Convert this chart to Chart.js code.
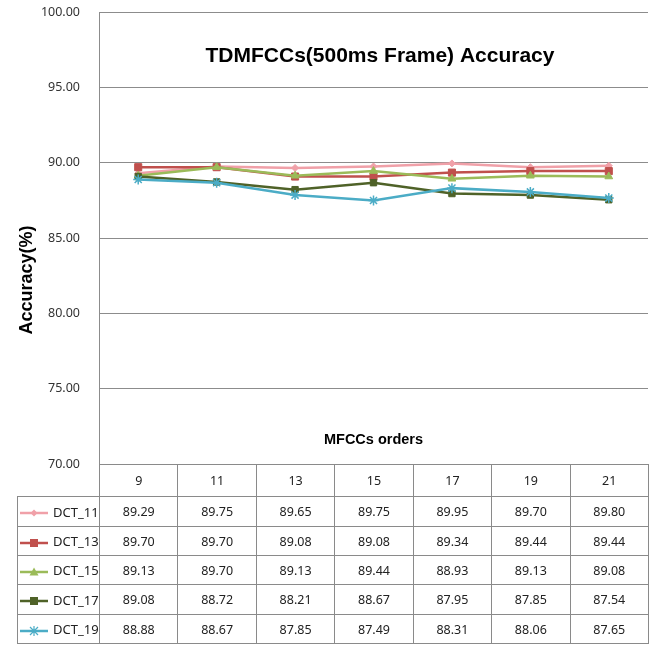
<!DOCTYPE html>
<html><head><meta charset="utf-8">
<script src="https://cdn.jsdelivr.net/npm/chart.js@4/dist/chart.umd.min.js"></script>
<style>
body{margin:0;background:#fff;}
#wrap{position:relative;width:651px;height:660px;overflow:hidden;}
#c{position:absolute;left:0;top:0;}
#tbl{position:absolute;left:17px;top:464px;border-collapse:collapse;font-family:"Noto Sans","DejaVu Sans",sans-serif;font-size:12.5px;color:#222;table-layout:fixed;}
#tbl td{border:1px solid #8a8a8a;text-align:center;padding:0;box-sizing:border-box;}
#tbl td.blank{border:none;}
#tbl td.leg{text-align:left;padding-left:2px;white-space:nowrap;font-size:13px;}
#tbl td.leg svg{vertical-align:middle;margin-right:3px;}
</style></head>
<body><div id="wrap"><canvas id="c" width="651" height="660"></canvas><table id="tbl"></table></div>
<script>
const categories = ['9','11','13','15','17','19','21'];
const seriesNames = ['DCT_11','DCT_13','DCT_15','DCT_17','DCT_19'];
const dct11 = [89.29, 89.75, 89.65, 89.75, 89.95, 89.70, 89.80];
const dct13 = [89.70, 89.70, 89.08, 89.08, 89.34, 89.44, 89.44];
const dct15 = [89.13, 89.70, 89.13, 89.44, 88.93, 89.13, 89.08];
const dct17 = [89.08, 88.72, 88.21, 88.67, 87.95, 87.85, 87.54];
const dct19 = [88.88, 88.67, 87.85, 87.49, 88.31, 88.06, 87.65];
const yTicks = [70, 75, 80, 85, 90, 95, 100];
const seriesValues = [dct11, dct13, dct15, dct17, dct19];

const colors = ['#F0A0A8', '#C0504D', '#9BBB59', '#4F6228', '#4BACC6'];
const pstyles = ['rectRot', 'rect', 'triangle', 'rect', 'star'];
const pradius = [3.5, 5, 4.5, 4.5, 5];

const datasets = seriesNames.map((n, i) => ({
  label: n, data: seriesValues[i],
  borderColor: colors[i], backgroundColor: colors[i],
  borderWidth: 2.5, pointStyle: pstyles[i], pointRadius: pradius[i],
  pointBorderWidth: i === 4 ? 1.5 : 1, pointBorderColor: colors[i],
  order: 4 - i, tension: 0
}));

const textPlugin = {
  id: 'texts',
  afterDraw(chart) {
    const ctx = chart.ctx, a = chart.chartArea;
    const cx = (a.left + a.right) / 2;
    ctx.save();
    ctx.fillStyle = '#000';
    ctx.textAlign = 'center'; ctx.textBaseline = 'middle';
    ctx.font = 'bold 21px "Liberation Sans", Arial, sans-serif';
    ctx.fillText('TDMFCCs(500ms Frame) Accuracy', 380, 56);
    ctx.font = 'bold 14.5px "Liberation Sans", Arial, sans-serif';
    ctx.fillText('MFCCs orders', cx, 440);
    ctx.translate(27, 280);
    ctx.rotate(-Math.PI / 2);
    ctx.font = 'bold 18px "Liberation Sans", Arial, sans-serif';
    ctx.fillText('Accuracy(%)', 0, 0);
    ctx.restore();
  }
};

const chart = new Chart(document.getElementById('c'), {
  type: 'line',
  data: { labels: categories, datasets },
  options: {
    responsive: false, animation: false,
    layout: { autoPadding: false, padding: { left: 0, top: 12, right: 3, bottom: 196 } },
    plugins: { legend: { display: false }, tooltip: { enabled: false }, title: { display: false } },
    scales: {
      x: {
        type: 'category', offset: true,
        grid: { display: false }, border: { display: false },
        ticks: { display: false },
        afterFit(s) { s.height = 0; s.paddingLeft = 0; s.paddingRight = 0; }
      },
      y: {
        min: 70, max: 100,
        afterFit(s) { s.width = 99; s.paddingTop = 0; s.paddingBottom = 0; },
        afterBuildTicks(s) { s.ticks = yTicks.map(v => ({ value: v })); },
        grid: { color: '#8c8c8c', lineWidth: 1, drawTicks: false },
        border: { display: true, color: '#8c8c8c', width: 1 },
        ticks: {
          padding: 19, color: '#333',
          font: { family: '"Noto Sans", "DejaVu Sans", sans-serif', size: 12.5 },
          callback: v => Number(v).toFixed(2)
        }
      }
    }
  },
  plugins: [textPlugin]
});

// Build data table aligned to the chart's x scale
function swatch(i) {
  const c = colors[i];
  let m = '';
  if (i === 0) m = `<polygon points="14,2.5 17.5,6 14,9.5 10.5,6" fill="${c}"/>`;
  else if (i === 1 || i === 3) m = `<rect x="10" y="2" width="8" height="8" fill="${c}"/>`;
  else if (i === 2) m = `<polygon points="14,1.5 18.5,9.5 9.5,9.5" fill="${c}"/>`;
  else m = `<path d="M10,2 L18,10 M18,2 L10,10 M14,1 L14,11" stroke="${c}" stroke-width="1.2"/>`;
  return `<svg width="30" height="12"><line x1="0" y1="6" x2="28" y2="6" stroke="${c}" stroke-width="2.5"/>${m}</svg>`;
}
const a = chart.chartArea;
const colW = (a.right - a.left) / categories.length;
const legW = a.left - 17;
const rowH = [32, 30, 29, 29, 30, 29];
const tbl = document.getElementById('tbl');
tbl.style.top = a.bottom + 'px';
let html = `<colgroup><col style="width:${legW}px">` + categories.map(() => `<col style="width:${colW}px">`).join('') + '</colgroup>';
html += `<tr style="height:${rowH[0]}px"><td class="blank"></td>` + categories.map(c => `<td>${c}</td>`).join('') + '</tr>';
seriesNames.forEach((n, i) => {
  html += `<tr style="height:${rowH[i + 1]}px"><td class="leg">${swatch(i)}${n}</td>` +
    seriesValues[i].map(v => `<td>${v.toFixed(2)}</td>`).join('') + '</tr>';
});
tbl.innerHTML = html;
tbl.style.width = (legW + colW * categories.length) + 'px';
</script>
</body></html>
